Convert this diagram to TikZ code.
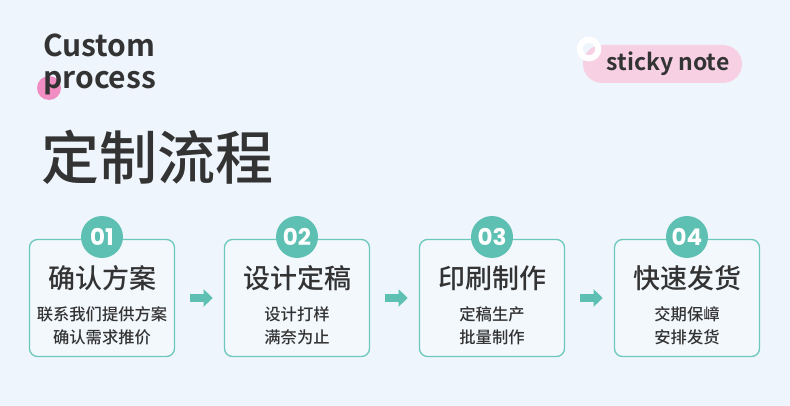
\documentclass[tikz,border=0pt]{standalone}
\usepackage{fontspec}
\usetikzlibrary{calc,arrows.meta}
\setmainfont{Noto Sans CJK SC}
\newfontfamily\cjk{Noto Sans CJK SC Medium}
\newfontfamily\cjkb{Noto Sans CJK SC Bold}
\newfontfamily\num{Poppins}
\definecolor{bg}{HTML}{EEF5FC}
\definecolor{teal}{HTML}{5EC0B3}
\definecolor{tealline}{HTML}{6CC8BC}
\definecolor{ink}{HTML}{333333}
\definecolor{pinkdot}{HTML}{F08DC2}
\definecolor{pinknote}{HTML}{F7D0E3}
\tikzset{
  stepbox/.style={draw=tealline, line width=1.3pt, fill=white!30!bg, rounded corners=8pt, minimum width=145pt, minimum height=117pt, inner sep=0pt},
  badge/.style={circle, fill=teal, minimum size=42pt, inner sep=0pt, text=white, font=\num\bfseries\fontsize{23}{23}\selectfont},
  ttl/.style={text=ink, font=\cjk\fontsize{27}{27}\selectfont, inner sep=0pt},
  sub/.style={text=ink, font=\cjk\fontsize{16.3}{23}\selectfont, align=center, inner sep=0pt},
  flow/.style={-{Triangle[length=9pt,width=17pt]}, line width=8.5pt, draw=teal, shorten >=0pt},
}
\begin{document}
\begin{tikzpicture}[x=1pt,y=-1pt]
\fill[bg] (0,0) rectangle (790,406);
\useasboundingbox (0,0) rectangle (790,406);
% header
\fill[pinkdot] (49,88) circle (12);
\node[anchor=base west, inner sep=0pt, text=ink, font=\cjkb\fontsize{30}{30}\selectfont] (h1) at (43,57) {Custom};
\node[anchor=base west, inner sep=0pt, text=ink, font=\cjkb\fontsize{30}{30}\selectfont] (h2) at (43,89) {process};
\node[anchor=west, inner sep=0pt, text=ink, font=\cjk\fontsize{58}{58}\selectfont] (big) at (41,157) {定制流程};
% sticky note
\node[fill=pinknote, rounded corners=19pt, minimum width=159pt, minimum height=38pt, inner sep=0pt] (note) at (662.5,64) {};
\node[text=ink, font=\cjkb\fontsize{23}{23}\selectfont, inner sep=0pt] (notet) at (668,64) {sticky note};
\draw[white, line width=6pt] (589,49) circle (9.3);
% boxes
\foreach \i/\x/\t/\a/\b in {1/102/确认方案/联系我们提供方案/确认需求推价,2/297/设计定稿/设计打样/满奈为止,3/492/印刷制作/定稿生产/批量制作,4/687/快速发货/交期保嶂/安排发货}{
  \node[stepbox] (box\i) at (\x,298) {};
  \node[badge] (badge\i) at (\x,237) {0\i};
  \node[ttl] (t\i) at (\x,278) {\t};
  \node[sub] (s\i) at (\x,326) {\a\\\b};
}
\foreach \i/\j in {1/2,2/3,3/4}{
  \coordinate (a\i) at ($(box\i.east)!0.30!(box\j.west)$);
  \coordinate (b\i) at ($(box\i.east)!0.77!(box\j.west)$);
  \draw[flow] (a\i) -- (b\i);
}
\end{tikzpicture}
\end{document}
